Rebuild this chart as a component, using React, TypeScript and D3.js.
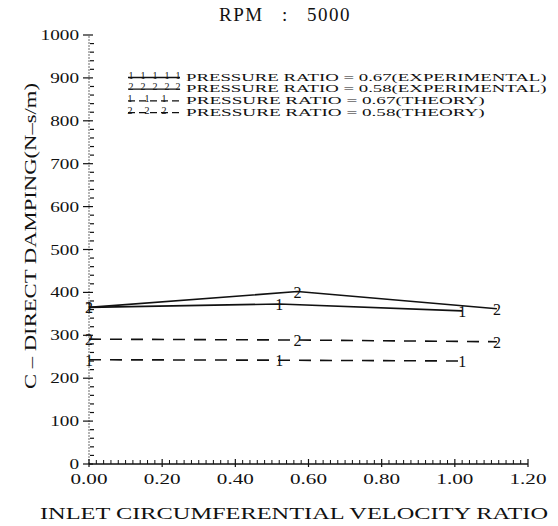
import React from "react";
import * as d3 from "d3";

const W = 558;
const H = 526;

const titleText = "RPM : 5000";
const xLabel = "INLET CIRCUMFERENTIAL VELOCITY RATIO";
const yLabel = "C \u2013 DIRECT DAMPING(N\u2013s/m)";

const xTicks = [0, 0.2, 0.4, 0.6, 0.8, 1.0, 1.2];
const yTicks = [0, 100, 200, 300, 400, 500, 600, 700, 800, 900, 1000];

// Series: experimental (solid) and theory (dashed)
const exp067X = [0.0, 0.52, 1.02];
const exp067Y = [365, 373, 357];
const exp058X = [0.0, 0.57, 1.115];
const exp058Y = [365, 402, 362];
const th067X = [0.0, 0.52, 1.02];
const th067Y = [243, 242, 240];
const th058X = [0.0, 0.57, 1.115];
const th058Y = [291, 289, 285];

const seriesNames = [
  "PRESSURE RATIO = 0.67(EXPERIMENTAL)",
  "PRESSURE RATIO = 0.58(EXPERIMENTAL)",
  "PRESSURE RATIO = 0.67(THEORY)",
  "PRESSURE RATIO = 0.58(THEORY)",
];
const seriesMarks = ["1", "2", "1", "2"];
const seriesDashed = [false, false, true, true];

const serif = "'Liberation Serif', 'DejaVu Serif', serif";

export default function App() {
  const x = d3.scaleLinear().domain([0, 1.2]).range([89, 528]);
  const y = d3.scaleLinear().domain([0, 1000]).range([464, 35]);
  const line = d3
    .line<[number, number]>()
    .x((d) => x(d[0]))
    .y((d) => y(d[1]));

  const series = [
    { xs: exp067X, ys: exp067Y },
    { xs: exp058X, ys: exp058Y },
    { xs: th067X, ys: th067Y },
    { xs: th058X, ys: th058Y },
  ];

  const yMinor = d3.range(0, 1001, 20).filter((v) => v % 100 !== 0);
  const xMinor = d3.range(0, 121, 2).map((v) => v / 100).filter((v) => Math.round(v * 100) % 20 !== 0);

  const legendY = [76.5, 88.2, 99.9, 111.6];

  return (
    <svg width={W} height={H} style={{ position: "absolute", left: 0, top: 0, background: "#fff" }}>
      <rect x={0} y={0} width={W} height={H} fill="#fff" />
      <text
        x={285}
        y={21}
        textAnchor="middle"
        fontFamily={serif}
        fontSize={19}
        fill="#111"
        letterSpacing={1.5}
        wordSpacing={12}
      >
        {titleText}
      </text>

      {/* Y axis */}
      <line x1={x(0)} x2={x(0)} y1={y(0)} y2={y(1000)} stroke="#444" strokeWidth={0.8} strokeDasharray="2,1" />
      {yTicks.map((t) => (
        <g key={"yt" + t}>
          <line x1={x(0) - 6} x2={x(0) + 4} y1={y(t)} y2={y(t)} stroke="#111" strokeWidth={1.2} />
          <text
            x={79}
            y={y(t) + 5}
            textAnchor="end"
            fontFamily={serif}
            fontSize={15}
            fill="#111"
            textLength={String(t).length * 9.6}
            lengthAdjust="spacingAndGlyphs"
          >
            {t}
          </text>
        </g>
      ))}
      {yMinor.map((t) => (
        <line key={"ym" + t} x1={x(0) + 1} x2={x(0) + 5} y1={y(t)} y2={y(t)} stroke="#111" strokeWidth={1.2} />
      ))}

      {/* X axis */}
      <line x1={x(0)} x2={x(1.2)} y1={y(0)} y2={y(0)} stroke="#111" strokeWidth={1.5} />
      {xTicks.map((t) => (
        <g key={"xt" + t}>
          <line x1={x(t)} x2={x(t)} y1={y(0) - 5} y2={y(0) + 3} stroke="#111" strokeWidth={1.2} />
          <text
            x={x(t)}
            y={484}
            textAnchor="middle"
            fontFamily={serif}
            fontSize={15}
            fill="#111"
            textLength={37}
            lengthAdjust="spacingAndGlyphs"
          >
            {t.toFixed(2)}
          </text>
        </g>
      ))}
      {xMinor.map((t) => (
        <line key={"xm" + t} x1={x(t)} x2={x(t)} y1={y(0) - 4} y2={y(0)} stroke="#111" strokeWidth={1} />
      ))}

      {/* Axis labels */}
      <text x={294} y={519} textAnchor="middle" fontFamily={serif} fontSize={17} fill="#111" textLength={508} lengthAdjust="spacingAndGlyphs">
        {xLabel}
      </text>
      <text
        transform={`translate(36, ${236}) rotate(-90)`}
        textAnchor="middle"
        fontFamily={serif}
        fontSize={17}
        fill="#111"
        textLength={306}
        lengthAdjust="spacingAndGlyphs"
      >
        {yLabel}
      </text>

      {/* Data lines */}
      {series.map((s, i) => (
        <g key={"s" + i}>
          <path
            d={line(s.xs.map((v, j) => [v, s.ys[j]] as [number, number])) || ""}
            fill="none"
            stroke="#111"
            strokeWidth={1.6}
            strokeDasharray={seriesDashed[i] ? "12,9" : undefined}
          />
          {s.xs.map((v, j) => (
            <text
              key={j}
              x={x(v)}
              y={y(s.ys[j]) + 6}
              textAnchor="middle"
              fontFamily={serif}
              fontSize={16}
              fill="#111"
            >
              {seriesMarks[i]}
            </text>
          ))}
        </g>
      ))}

      {/* Legend */}
      {seriesNames.map((name, i) => (
        <g key={"lg" + i}>
          <line
            x1={128}
            x2={180}
            y1={legendY[i] + 1}
            y2={legendY[i] + 1}
            stroke="#111"
            strokeWidth={1.3}
            strokeDasharray={seriesDashed[i] ? "7,4" : undefined}
          />
          {(seriesDashed[i] ? [130, 147, 164] : [131, 143, 155, 167, 178]).map((mx, k) => (
            <text key={k} x={mx} y={legendY[i] + 2} textAnchor="middle" fontFamily={serif} fontSize={10} fill="#111">
              {seriesMarks[i]}
            </text>
          ))}
          <text
            x={186}
            y={legendY[i] + 4}
            fontFamily={serif}
            fontSize={10.5}
            fill="#111"
            textLength={name.length * 10.3}
            lengthAdjust="spacingAndGlyphs"
          >
            {name}
          </text>
        </g>
      ))}
    </svg>
  );
}
